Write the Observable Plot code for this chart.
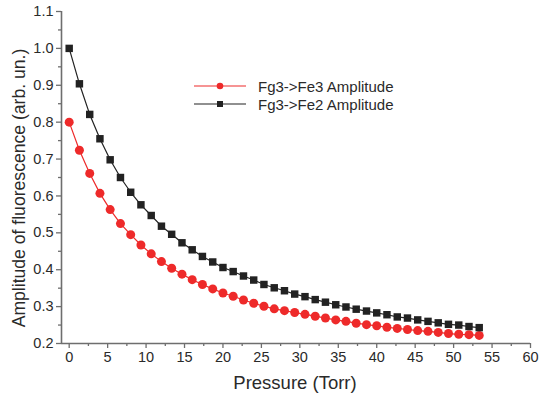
<!DOCTYPE html>
<html><head><meta charset="utf-8">
<script src="https://cdn.jsdelivr.net/npm/d3@7"></script>
<script src="https://cdn.jsdelivr.net/npm/@observablehq/plot@0.6"></script>
<style>
body{margin:0;background:#fff;}
#wrap{position:relative;width:554px;height:400px;font-family:"Liberation Sans",Arial,sans-serif;}
#wrap > svg{position:absolute;left:0;top:0;}
</style>
</head><body><div id="wrap"></div>
<script>
const pressure = [0, 1.33, 2.67, 4, 5.33, 6.67, 8, 9.33, 10.67, 12, 13.33, 14.67, 16, 17.33, 18.67, 20, 21.33, 22.67, 24, 25.33, 26.67, 28, 29.33, 30.67, 32, 33.33, 34.67, 36, 37.33, 38.67, 40, 41.33, 42.67, 44, 45.33, 46.67, 48, 49.33, 50.67, 52, 53.33];
const fe3Amp = [0.800, 0.724, 0.661, 0.607, 0.563, 0.525, 0.495, 0.467, 0.443, 0.422, 0.404, 0.388, 0.373, 0.360, 0.348, 0.337, 0.328, 0.318, 0.309, 0.301, 0.294, 0.289, 0.284, 0.279, 0.274, 0.269, 0.264, 0.260, 0.255, 0.251, 0.248, 0.244, 0.241, 0.238, 0.235, 0.233, 0.230, 0.227, 0.225, 0.224, 0.222];
const fe2Amp = [1.000, 0.904, 0.821, 0.755, 0.698, 0.650, 0.610, 0.576, 0.547, 0.518, 0.496, 0.473, 0.454, 0.436, 0.421, 0.406, 0.395, 0.383, 0.372, 0.360, 0.351, 0.343, 0.334, 0.327, 0.319, 0.312, 0.305, 0.299, 0.293, 0.288, 0.283, 0.278, 0.272, 0.269, 0.264, 0.260, 0.256, 0.252, 0.250, 0.246, 0.243];
const seriesNames = ["Fg3->Fe3 Amplitude", "Fg3->Fe2 Amplitude"];
const xTicks = [0, 5, 10, 15, 20, 25, 30, 35, 40, 45, 50, 55, 60];
const xMinor = [2.5, 7.5, 12.5, 17.5, 22.5, 27.5, 32.5, 37.5, 42.5, 47.5, 52.5, 57.5];
const yTicks = [0.2, 0.3, 0.4, 0.5, 0.6, 0.7, 0.8, 0.9, 1.0, 1.1];
const yMinor = [0.25, 0.35, 0.45, 0.55, 0.65, 0.75, 0.85, 0.95, 1.05];
const xTitle = "Pressure (Torr)";
const yTitle = "Amplitude of fluorescence (arb. un.)";

const red = "#ee2a2a", black = "#222222", axisCol = "#6e6e6e", textCol = "#2a2a2a";
const fe3 = pressure.map((p, i) => ({p, v: fe3Amp[i]}));
const fe2 = pressure.map((p, i) => ({p, v: fe2Amp[i]}));

const chart = Plot.plot({
  width: 554, height: 400,
  marginLeft: 61, marginRight: 24, marginTop: 11, marginBottom: 57,
  style: {fontFamily: '"Liberation Sans", Arial, sans-serif', background: "transparent"},
  x: {domain: [-1, 60]},
  y: {domain: [0.2, 1.1]},
  marks: [
    Plot.axisX({ticks: xTicks, tickSize: 5, tickPadding: 3, fontSize: 14.5, stroke: axisCol, strokeWidth: 1.3, fill: textCol, label: null, tickFormat: d3.format("d")}),
    Plot.axisX({ticks: xMinor, tickSize: 3, stroke: axisCol, strokeWidth: 1.3, label: null, tickFormat: () => ""}),
    Plot.axisY({ticks: yTicks, tickSize: 5, tickPadding: 3, fontSize: 14.5, stroke: axisCol, strokeWidth: 1.3, fill: textCol, label: null, tickFormat: d3.format(".1f")}),
    Plot.axisY({ticks: yMinor, tickSize: 3, stroke: axisCol, strokeWidth: 1.3, label: null, tickFormat: () => ""}),
    Plot.ruleY([yTicks[0]], {x1: -1, x2: 60, stroke: axisCol, strokeWidth: 1.6}),
    Plot.ruleX([-1], {y1: 0.2, y2: 1.1, stroke: axisCol, strokeWidth: 1.6}),
    Plot.line(fe3, {x: "p", y: "v", stroke: red, strokeWidth: 1.2}),
    Plot.line(fe2, {x: "p", y: "v", stroke: black, strokeWidth: 1.2}),
    Plot.dot(fe3, {x: "p", y: "v", r: 4.5, fill: red, symbol: "circle"}),
    Plot.dot(fe2, {x: "p", y: "v", r: 4.2, fill: black, symbol: "square"})
  ]
});
const wrap = document.getElementById("wrap");
wrap.appendChild(chart);

// titles and legend overlay
const ov = d3.select(wrap).append("svg").attr("width", 554).attr("height", 400)
  .style("font-family", '"Liberation Sans", Arial, sans-serif');
ov.append("text").attr("x", 295).attr("y", 389).attr("text-anchor", "middle")
  .attr("font-size", 18.5).attr("fill", textCol).text(xTitle);
ov.append("text").attr("transform", "translate(25,188) rotate(-90)").attr("text-anchor", "middle")
  .attr("font-size", 17.6).attr("fill", textCol).text(yTitle);
const legendCols = [red, black];
seriesNames.forEach((name, i) => {
  const y = 86 + i * 18;
  const g = ov.append("g");
  g.append("line").attr("x1", 194).attr("x2", 246).attr("y1", y).attr("y2", y)
    .attr("stroke", legendCols[i]).attr("stroke-width", 1.2);
  if (i === 0) g.append("circle").attr("cx", 220).attr("cy", y).attr("r", 3.3).attr("fill", red);
  else g.append("rect").attr("x", 217).attr("y", y - 3).attr("width", 6).attr("height", 6).attr("fill", black);
  g.append("text").attr("x", 258).attr("y", y + 5.5).attr("font-size", 15).attr("fill", textCol).text(name);
});
</script>
</body></html>
